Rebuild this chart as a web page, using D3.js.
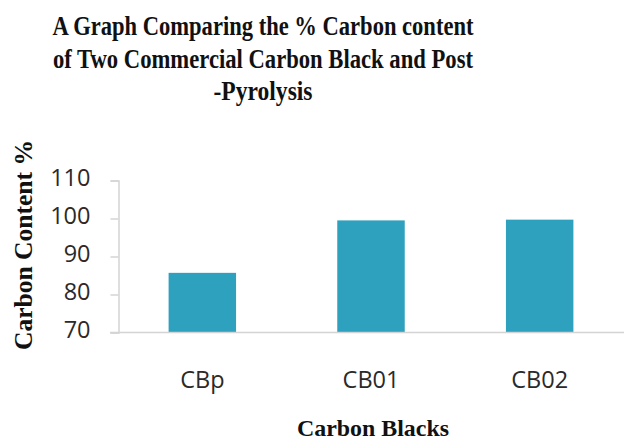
<!DOCTYPE html>
<html>
<head>
<meta charset="utf-8">
<script src="https://cdn.jsdelivr.net/npm/d3@7"></script>
<style>
  body { margin: 0; background: #fff; }
  svg { display: block; }
</style>
</head>
<body>
<script>
// Chart data
var categories = ["CBp", "CB01", "CB02"];
var carbonValues = [85.7, 99.5, 99.7];
var yTicks = [70, 80, 90, 100, 110];
var titleLines = ["A Graph Comparing the % Carbon content", "of Two Commercial Carbon Black and Post", "-Pyrolysis"];

var width = 627, height = 441;

var svg = d3.select("body").append("svg")
    .attr("width", width)
    .attr("height", height);

// Scales
var x = d3.scaleBand()
    .domain(categories)
    .range([118, 624])
    .paddingInner(0.6)
    .paddingOuter(0.3);

var y = d3.scaleLinear()
    .domain([70, 110])
    .range([332.5, 180.5]);

// Title, condensed bold serif
var titleWidths = [421, 420, 99];
titleLines.forEach(function(t, i) {
    svg.append("text")
        .attr("x", 263)
        .attr("y", 35 + i * 32.5)
        .attr("text-anchor", "middle")
        .attr("font-family", "Liberation Serif, serif")
        .attr("font-weight", "bold")
        .attr("font-size", 28)
        .attr("textLength", titleWidths[i])
        .attr("lengthAdjust", "spacingAndGlyphs")
        .attr("fill", "#111")
        .text(t);
});

// Bars
svg.append("g")
    .selectAll("rect")
    .data(carbonValues)
    .enter()
    .append("rect")
        .attr("x", function(d, i) { return x(categories[i]); })
        .attr("width", x.bandwidth())
        .attr("y", function(d) { return y(d); })
        .attr("height", function(d) { return y(70) - y(d); })
        .attr("fill", "#2da1bd");

// y axis
var yAxis = svg.append("g")
    .attr("transform", "translate(118.5,0)")
    .call(d3.axisLeft(y).tickValues(yTicks).tickSize(8).tickPadding(20));
yAxis.select(".domain").attr("stroke", "#d4d4d4").attr("stroke-width", 1.5);
yAxis.selectAll(".tick line").attr("stroke", "#d4d4d4").attr("stroke-width", 1.5);
yAxis.selectAll(".tick text")
    .attr("font-family", "Open Sans, sans-serif")
    .attr("font-size", 23.5)
    .attr("dy", "0.22em")
    .attr("fill", "#2a2a2a");

// x axis
var xAxis = svg.append("g")
    .attr("transform", "translate(0,332.5)")
    .call(d3.axisBottom(x).tickSize(0).tickPadding(39));
xAxis.select(".domain")
    .attr("d", "M110,0H624")
    .attr("stroke", "#d4d4d4").attr("stroke-width", 1.5);
xAxis.selectAll(".tick text")
    .attr("font-family", "Open Sans, sans-serif")
    .attr("font-size", 23.5)
    .attr("fill", "#2a2a2a");

// Axis titles
svg.append("text")
    .attr("x", 373)
    .attr("y", 436)
    .attr("text-anchor", "middle")
    .attr("font-family", "Liberation Serif, serif")
    .attr("font-weight", "bold")
    .attr("font-size", 23)
    .attr("textLength", 152)
    .attr("lengthAdjust", "spacingAndGlyphs")
    .attr("fill", "#111")
    .text("Carbon Blacks");

svg.append("text")
    .attr("transform", "translate(32,245) rotate(-90)")
    .attr("text-anchor", "middle")
    .attr("font-family", "Liberation Serif, serif")
    .attr("font-weight", "bold")
    .attr("font-size", 26)
    .attr("textLength", 210)
    .attr("lengthAdjust", "spacingAndGlyphs")
    .attr("fill", "#111")
    .text("Carbon Content %");
</script>
</body>
</html>
